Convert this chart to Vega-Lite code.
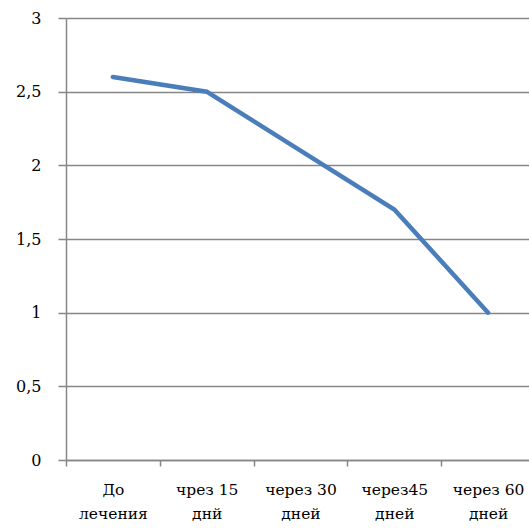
{
  "$schema": "https://vega.github.io/schema/vega-lite/v6.json",
  "width": 463,
  "height": 442,
  "autosize": "none",
  "padding": {"left": 66, "top": 18, "right": 0, "bottom": 70},
  "background": "white",
  "config": {"view": {"stroke": null}, "font": "DejaVu Serif"},
  "data": {
    "values": [
      {"period": "До лечения", "value": 2.6},
      {"period": "чрез 15 днй", "value": 2.5},
      {"period": "через 30 дней", "value": 2.1},
      {"period": "через45 дней", "value": 1.7},
      {"period": "через 60 дней", "value": 1.0}
    ]
  },
  "mark": {"type": "line", "color": "#4A7EBB", "strokeWidth": 4.5, "strokeCap": "round", "strokeJoin": "miter"},
  "encoding": {
    "x": {
      "field": "period",
      "type": "nominal",
      "sort": null,
      "scale": {"type": "band", "paddingInner": 0, "paddingOuter": 0, "range": [0, 469]},
      "axis": {
        "title": null,
        "labelAngle": 0,
        "labelFont": "DejaVu Serif",
        "labelFontSize": 15.5,
        "labelColor": "#000000",
        "labelLineHeight": 24,
        "labelPadding": 16,
        "labelBaseline": "top",
        "labelExpr": "[substring(datum.label, 0, lastindexof(datum.label, ' ')), substring(datum.label, lastindexof(datum.label, ' ') + 1)]",
        "domainColor": "#868686",
        "domainWidth": 1.5,
        "tickColor": "#868686",
        "tickWidth": 1.5,
        "tickSize": 6,
        "tickBand": "extent",
        "grid": false
      }
    },
    "y": {
      "field": "value",
      "type": "quantitative",
      "scale": {"domain": [0, 3], "nice": false, "zero": true},
      "axis": {
        "title": null,
        "values": [0, 0.5, 1, 1.5, 2, 2.5, 3],
        "labelExpr": "replace(format(datum.value, '~g'), '.', ',')",
        "labelFont": "DejaVu Serif",
        "labelFontSize": 16,
        "labelColor": "#000000",
        "labelPadding": 17,
        "domainColor": "#868686",
        "domainWidth": 1.5,
        "tickColor": "#868686",
        "tickWidth": 1.5,
        "tickSize": 8,
        "grid": true,
        "gridColor": "#868686",
        "gridWidth": 1.5
      }
    }
  }
}
